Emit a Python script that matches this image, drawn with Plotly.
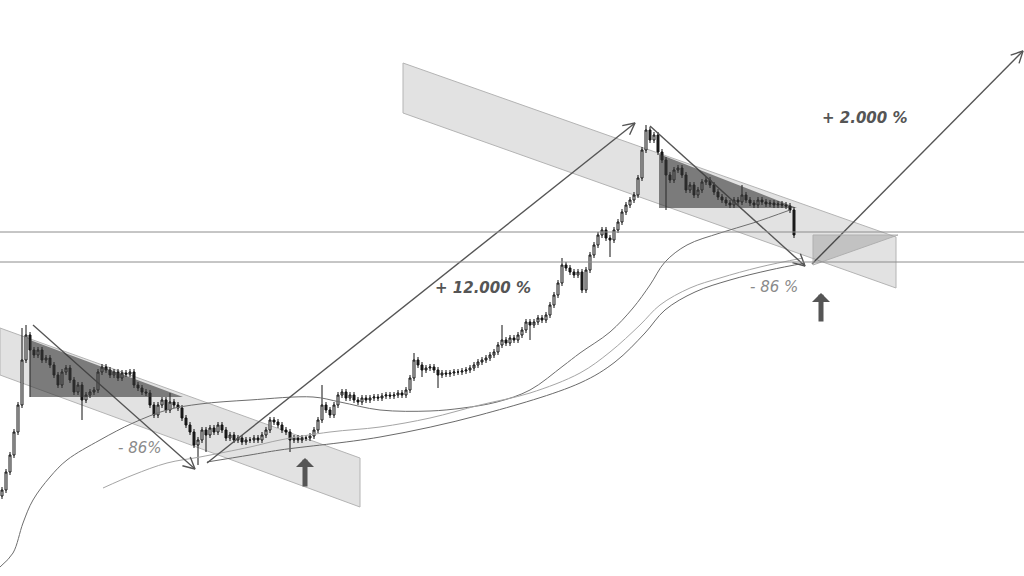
import math
import plotly.graph_objects as go

# ---------------- data (x = week index, y = price level) ----------------
closes = [
    86, 104, 121, 144, 171, 216, 241, 226, 221, 226, 216, 218, 211, 201, 191, 204, 208, 196, 184, 191,
    176, 181, 184, 186, 204, 209, 206, 201, 204, 198, 203, 202, 204, 191, 188, 184, 183, 171, 161, 171,
    176, 166, 174, 171, 168, 158, 151, 144, 131, 136, 146, 141, 148, 144, 151, 146, 138, 141, 136, 138,
    134, 136, 136, 138, 136, 141, 146, 156, 154, 151, 146, 144, 136, 138, 136, 138, 138, 140, 146, 156,
    171, 166, 161, 171, 181, 184, 178, 181, 176, 174, 178, 176, 178, 179, 178, 180, 181, 180, 181, 183,
    181, 186, 198, 216, 211, 206, 208, 209, 206, 201, 203, 202, 203, 204, 204, 205, 206, 208, 211, 214,
    216, 218, 221, 224, 231, 236, 233, 238, 236, 241, 246, 254, 251, 254, 258, 256, 261, 271, 281, 293,
    311, 308, 304, 301, 304, 286, 306, 321, 331, 341, 346, 338, 336, 346, 354, 364, 371, 376, 381, 398,
    426, 446, 436, 441, 424, 416, 401, 396, 406, 408, 401, 386, 391, 381, 386, 394, 396, 391, 384, 379,
    376, 373, 371, 376, 374, 381, 376, 373, 371, 376, 374, 372, 373, 371, 372, 371, 370, 366, 341,
]
first_open = 80
weeks = list(range(len(closes)))
opens = [first_open] + closes[:-1]
wick = 3
# notable wick extremes: index -> (high, low)
wick_extremes = {
    5: (248, None), 6: (251, None), 7: (None, 179), 20: (None, 156), 42: (183, None),
    49: (None, 111), 51: (None, 124), 72: (None, 124), 80: (191, None), 103: (223, None),
    105: (None, 199), 109: (None, 188), 125: (251, None), 132: (None, 236), 140: (318, None),
    145: (None, 283), 152: (None, 319), 161: (451, None), 166: (None, 366), 185: (391, None),
}
highs, lows = [], []
for i, (o, c) in enumerate(zip(opens, closes)):
    h, l = max(o, c) + wick, min(o, c) - wick
    if i in wick_extremes:
        hh, ll = wick_extremes[i]
        h = hh if hh is not None else h
        l = ll if ll is not None else l
    highs.append(h)
    lows.append(l)

# moving-average style curves (week, level)
ma_a_x = [-0.5, 2.75, 5.25, 7.75, 12, 16.25, 24.5, 32.75, 41.25, 49.5, 62, 77.75, 84.5, 94.5, 107,
          115.25, 123.75, 132, 140.25, 144.5, 152, 157.75, 162, 165.75, 171.25, 179.5, 187.75, 197]
ma_a_y = [9, 23, 53, 76, 99, 116, 136, 153, 166, 172, 176, 179, 174, 166, 165,
          168, 174, 186, 210, 223, 244, 268, 291, 314, 331, 343, 353, 366]
ma_b_x = [25.25, 32.75, 41.25, 49.5, 62, 69.5, 82, 94.5, 107, 119.5, 132, 144.5, 152, 159.5,
          164.5, 172, 179.5, 189.5, 200.25]
ma_b_y = [88, 101, 113, 119, 129, 136, 144, 149, 158, 171, 183, 203, 224, 251,
          271, 288, 298, 309, 318]
ma_c_x = [51.25, 62, 69.5, 94.5, 119.5, 144.5, 153.25, 160.75, 165.75, 173.25, 182, 192, 200.75]
ma_c_y = [114, 121, 126, 139, 161, 193, 214, 243, 266, 284, 296, 306, 313]

# channel bands (parallelograms) and highlighted triangles
band1_x = [-0.5, 89.5, 89.5, -0.5]
band1_y = [248, 118, 69, 201]
band2_x = [100.25, 223.5, 223.5, 100.25]
band2_y = [513, 339, 288, 463]
tri1_x = [7, 7, 45.25]
tri1_y = [236, 179, 179]
tri2_x = [164.25, 164.25, 198.75]
tri2_y = [422, 368, 368]
tri3_x = [202.75, 224, 202.75]
tri3_y = [341, 341, 311]

levels_h = [344, 314]

# trend arrows: (tail_x, tail_y, head_x, head_y)
trend_arrows = [
    (7.75, 251, 48.25, 107),
    (51.25, 113, 158.25, 453),
    (162, 450, 200.75, 310),
    (202.5, 312, 255.25, 525),
]
# bold up arrows: (x, tail_y, head_y)
up_arrows = [(75.75, 88, 118), (204.75, 253, 283)]

labels = [
    ("+ 12.000 %", 120.25, 288, True),
    ("+ 2.000 %", 215.75, 458, True),
    ("- 86 %", 193, 289, False),
    ("- 86%", 34.5, 128, False),
]

X_RANGE = [-0.5, 255.5]
Y_RANGE = [0, 576]
W, H = 1024, 576
PX_X = W / (X_RANGE[1] - X_RANGE[0])
PX_Y = H / (Y_RANGE[1] - Y_RANGE[0])


def poly_path(xs, ys):
    pts = " L ".join(f"{x},{y}" for x, y in zip(xs, ys))
    return f"M {pts} Z"


def head_arms(tx, ty, hx, hy, length=13, spread=math.radians(27)):
    dx = (hx - tx) * PX_X
    dy = (hy - ty) * PX_Y
    ang = math.atan2(dy, dx)
    arms = []
    for s in (spread, -spread):
        a = ang + math.pi + s
        arms.append((hx + length * math.cos(a) / PX_X, hy + length * math.sin(a) / PX_Y))
    return arms


fig = go.Figure()

fig.add_trace(go.Scatter(x=ma_a_x, y=ma_a_y, mode="lines", line=dict(color="#6e6e6e", width=1, shape="spline"),
                         hoverinfo="skip", showlegend=False))
fig.add_trace(go.Scatter(x=ma_b_x, y=ma_b_y, mode="lines", line=dict(color="#a5a5a5", width=1, shape="spline"),
                         hoverinfo="skip", showlegend=False))
fig.add_trace(go.Scatter(x=ma_c_x, y=ma_c_y, mode="lines", line=dict(color="#6a6a6a", width=1, shape="spline"),
                         hoverinfo="skip", showlegend=False))

fig.add_trace(go.Candlestick(
    x=weeks, open=opens, high=highs, low=lows, close=closes,
    increasing=dict(line=dict(color="#111111", width=1), fillcolor="#ffffff"),
    decreasing=dict(line=dict(color="#111111", width=1), fillcolor="#222222"),
    whiskerwidth=0, hoverinfo="skip", showlegend=False,
))

# trend arrows: shaft + open V head
ax_, ay_ = [], []
for tx, ty, hx, hy in trend_arrows:
    (a1x, a1y), (a2x, a2y) = head_arms(tx, ty, hx, hy)
    ax_ += [tx, hx, None, a1x, hx, a2x, None]
    ay_ += [ty, hy, None, a1y, hy, a2y, None]
fig.add_trace(go.Scatter(x=ax_, y=ay_, mode="lines", line=dict(color="#555555", width=1.4),
                         connectgaps=False, hoverinfo="skip", showlegend=False))

shapes = []
for bx, by in [(band1_x, band1_y), (band2_x, band2_y)]:
    shapes.append(dict(type="path", path=poly_path(bx, by), xref="x", yref="y",
                       fillcolor="#e2e2e2", line=dict(color="#b4b4b4", width=1), layer="below"))
for tx, ty in [(tri1_x, tri1_y), (tri2_x, tri2_y)]:
    shapes.append(dict(type="path", path=poly_path(tx, ty), xref="x", yref="y",
                       fillcolor="rgba(55,55,55,0.6)", line=dict(width=0), layer="above"))
shapes.append(dict(type="path", path=poly_path(tri3_x, tri3_y), xref="x", yref="y",
                   fillcolor="rgba(0,0,0,0.14)", line=dict(color="#b0b0b0", width=1), layer="above"))
for lv in levels_h:
    shapes.append(dict(type="line", xref="paper", x0=0, x1=1, yref="y", y0=lv, y1=lv,
                       line=dict(color="#8c8c8c", width=1), layer="above"))

annotations = []
for ux, uy0, uy1 in up_arrows:
    annotations.append(dict(x=ux, y=uy1, ax=ux, ay=uy0, xref="x", yref="y", axref="x", ayref="y",
                            text="", showarrow=True, arrowhead=1, arrowsize=0.6, arrowwidth=5,
                            arrowcolor="#555555"))
for txt, lx, ly, bold in labels:
    if bold:
        annotations.append(dict(x=lx, y=ly, xref="x", yref="y", text=f"<b><i>{txt}</i></b>",
                                showarrow=False, font=dict(family="DejaVu Sans", size=15, color="#555555")))
    else:
        annotations.append(dict(x=lx, y=ly, xref="x", yref="y", text=f"<i>{txt}</i>",
                                showarrow=False, font=dict(family="DejaVu Sans", size=15, color="#8a8a8a")))

fig.update_layout(
    width=W, height=H,
    margin=dict(l=0, r=0, t=0, b=0),
    paper_bgcolor="white", plot_bgcolor="white",
    shapes=shapes, annotations=annotations,
    xaxis=dict(range=X_RANGE, visible=False, showgrid=False, zeroline=False,
               rangeslider=dict(visible=False)),
    yaxis=dict(range=Y_RANGE, visible=False, showgrid=False, zeroline=False),
    showlegend=False,
    hovermode=False,
)

fig.write_html("out.html", config={"displayModeBar": False, "staticPlot": True},
               post_script="document.body.style.margin='0';document.body.style.padding='0';")
